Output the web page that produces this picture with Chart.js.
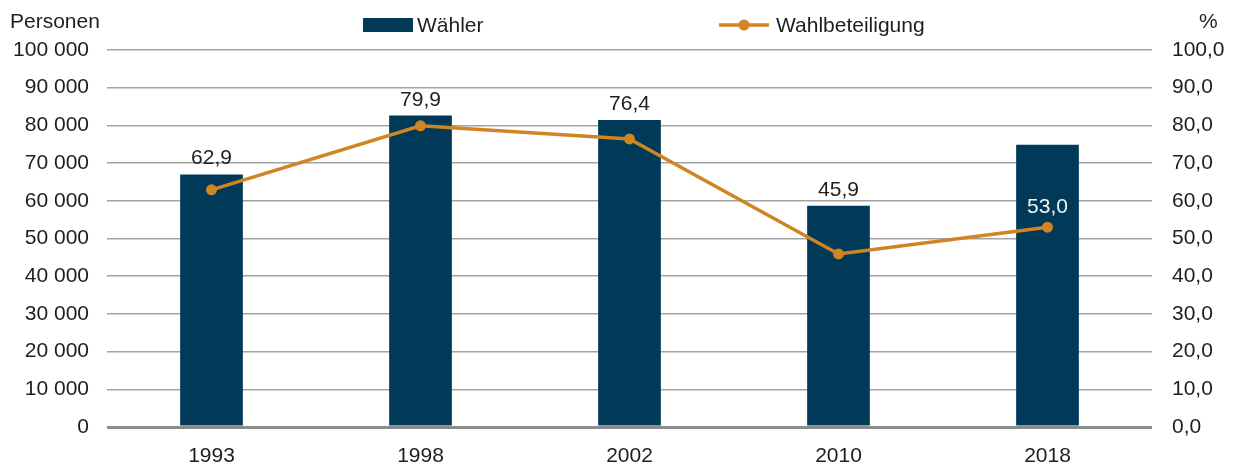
<!DOCTYPE html>
<html>
<head>
<meta charset="utf-8">
<script src="https://cdn.jsdelivr.net/npm/chart.js@4.4.1/dist/chart.umd.min.js"></script>
<style>
html,body{margin:0;padding:0;background:#fff;}
#wrap{position:relative;width:1236px;height:466px;}
canvas{display:block;}
</style>
</head>
<body>
<div id="wrap"><canvas id="c" width="1236" height="466"></canvas></div>
<script>
const categories = ['1993', '1998', '2002', '2010', '2018'];
const waehler = [67000, 82600, 81400, 58700, 74900];
const wahlbeteiligung = [62.9, 79.9, 76.4, 45.9, 53.0];
const leftTicks = [0, 10000, 20000, 30000, 40000, 50000, 60000, 70000, 80000, 90000, 100000];
const rightTicks = [0, 10, 20, 30, 40, 50, 60, 70, 80, 90, 100];

const BAR = '#003a58';
const LINE = '#cf8522';
const TXT = '#1e1e1e';
const FONT = '"Liberation Sans", Arial, Helvetica, sans-serif';

function fmtThousands(v){ return String(v).replace(/\B(?=(\d{3})+(?!\d))/g, ' '); }
function fmtPct(v){ return Number(v).toFixed(1).replace('.', ','); }

const overlay = {
  id: 'overlay',
  afterDatasetsDraw(chart){
    const ctx = chart.ctx;
    const bars = chart.getDatasetMeta(0).data;
    const pts = chart.getDatasetMeta(1).data;
    ctx.save();
    ctx.font = '21px ' + FONT;
    ctx.textAlign = 'center';
    ctx.textBaseline = 'alphabetic';
    wahlbeteiligung.forEach((v, i) => {
      const b = bars[i], p = pts[i];
      if (p.y - b.y > 60) {
        ctx.fillStyle = '#eef3f6';
        ctx.fillText(fmtPct(v), b.x, p.y - 14);
      } else {
        ctx.fillStyle = TXT;
        ctx.fillText(fmtPct(v), b.x, b.y - 10);
      }
    });
    ctx.restore();
  },
  afterDraw(chart){
    const ctx = chart.ctx;
    ctx.save();
    ctx.font = '21px ' + FONT;
    ctx.fillStyle = TXT;
    ctx.textBaseline = 'alphabetic';
    ctx.textAlign = 'left';
    ctx.fillText('Personen', 10, 28);
    ctx.fillText('%', 1199, 28);
    // legend
    ctx.fillStyle = BAR;
    ctx.fillRect(363, 18, 50, 14);
    ctx.fillStyle = TXT;
    ctx.fillText(chart.data.datasets[0].label, 417, 32);
    ctx.strokeStyle = LINE;
    ctx.lineWidth = 3.5;
    ctx.beginPath();
    ctx.moveTo(719, 25);
    ctx.lineTo(769, 25);
    ctx.stroke();
    ctx.fillStyle = LINE;
    ctx.beginPath();
    ctx.arc(744, 25, 5.5, 0, Math.PI * 2);
    ctx.fill();
    ctx.fillStyle = TXT;
    ctx.fillText(chart.data.datasets[1].label, 776, 32);
    ctx.restore();
  }
};

new Chart(document.getElementById('c'), {
  type: 'bar',
  data: {
    labels: categories,
    datasets: [
      {
        type: 'bar',
        label: 'Wähler',
        data: waehler,
        yAxisID: 'y',
        backgroundColor: BAR,
        barPercentage: 0.3,
        categoryPercentage: 1,
        order: 2
      },
      {
        type: 'line',
        label: 'Wahlbeteiligung',
        data: wahlbeteiligung,
        yAxisID: 'y1',
        borderColor: LINE,
        backgroundColor: LINE,
        borderWidth: 3.5,
        pointRadius: 5.5,
        pointBackgroundColor: LINE,
        pointBorderWidth: 0,
        tension: 0,
        order: 1
      }
    ]
  },
  options: {
    responsive: false,
    animation: false,
    devicePixelRatio: 1,
    layout: { padding: { top: 50, bottom: 0, left: 0, right: 0 } },
    plugins: { legend: { display: false }, tooltip: { enabled: false } },
    scales: {
      x: {
        grid: { display: false },
        border: { display: false },
        afterFit(s){ s.height = 39; },
        ticks: { font: { size: 21, family: FONT }, color: TXT, padding: 9, maxRotation: 0 }
      },
      y: {
        position: 'left',
        min: 0, max: 100000,
        afterBuildTicks(s){ s.ticks = leftTicks.map(v => ({ value: v })); },
        afterFit(s){ s.width = 107; },
        border: { display: false },
        grid: {
          drawTicks: false,
          color: c => c.tick && c.tick.value === 0 ? '#8c8c8c' : '#a3a3a3',
          lineWidth: c => c.tick && c.tick.value === 0 ? 3 : 1.5
        },
        ticks: {
          font: { size: 21, family: FONT }, color: TXT, padding: 18,
          callback: v => fmtThousands(v)
        }
      },
      y1: {
        position: 'right',
        min: 0, max: 100,
        afterBuildTicks(s){ s.ticks = rightTicks.map(v => ({ value: v })); },
        afterFit(s){ s.width = 84; },
        border: { display: false },
        grid: { display: false, drawTicks: false },
        ticks: {
          font: { size: 21, family: FONT }, color: TXT, padding: 20,
          callback: v => fmtPct(v)
        }
      }
    }
  },
  plugins: [overlay]
});
</script>
</body>
</html>
